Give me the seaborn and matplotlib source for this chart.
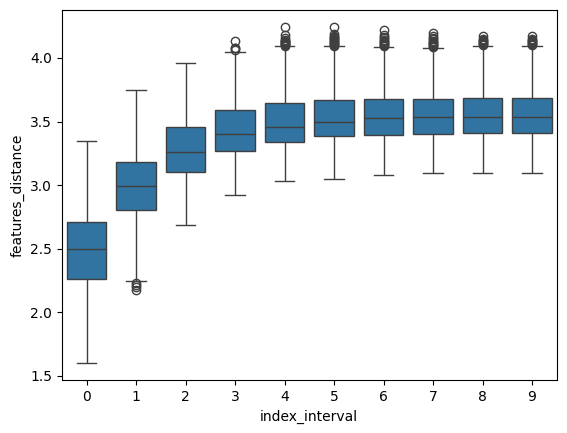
import pandas as pd
import matplotlib
matplotlib.use("Agg")
import matplotlib.pyplot as plt
import seaborn as sns

# box statistics, one entry per index_interval
intervals = [0, 1, 2, 3, 4, 5, 6, 7, 8, 9]
whisker_low = [1.599, 2.244, 2.686, 2.923, 3.034, 3.050, 3.076, 3.098, 3.098, 3.098]
q1 = [2.262, 2.805, 3.105, 3.271, 3.342, 3.384, 3.397, 3.405, 3.410, 3.410]
median = [2.500, 2.994, 3.263, 3.405, 3.460, 3.500, 3.524, 3.532, 3.532, 3.532]
q3 = [2.713, 3.184, 3.455, 3.587, 3.642, 3.668, 3.676, 3.676, 3.684, 3.684]
whisker_high = [3.350, 3.747, 3.960, 4.045, 4.092, 4.092, 4.085, 4.077, 4.077, 4.077]

# outliers
outliers_low = {
    1: [2.228, 2.215, 2.200, 2.173],
}
outliers_high = {
    3: [4.066, 4.075, 4.082, 4.130],
    4: [4.097, 4.102, 4.108, 4.113, 4.118, 4.124, 4.130, 4.137, 4.145, 4.155, 4.180, 4.240],
    5: [4.097, 4.103, 4.110, 4.117, 4.124, 4.132, 4.140, 4.148, 4.157, 4.166, 4.176, 4.190, 4.245],
    6: [4.090, 4.097, 4.104, 4.112, 4.120, 4.128, 4.136, 4.145, 4.155, 4.166, 4.180, 4.220],
    7: [4.082, 4.089, 4.096, 4.104, 4.112, 4.120, 4.128, 4.137, 4.147, 4.158, 4.172, 4.195],
    8: [4.082, 4.088, 4.095, 4.102, 4.110, 4.118, 4.126, 4.134, 4.143, 4.152, 4.175],
    9: [4.082, 4.088, 4.095, 4.102, 4.110, 4.118, 4.126, 4.134, 4.143, 4.152, 4.172],
}

# build a long table whose quartiles reproduce the statistics above
rows = []
for i, k in enumerate(intervals):
    vals = (outliers_low.get(k, []) + [whisker_low[i]] + [q1[i]] * 40 + [median[i]] * 40
            + [q3[i]] * 40 + [whisker_high[i]] + outliers_high.get(k, []))
    rows += [(k, v) for v in vals]
df = pd.DataFrame(rows, columns=["index_interval", "features_distance"])

fig, ax = plt.subplots(figsize=(5.67, 4.33), dpi=100)
sns.boxplot(data=df, x="index_interval", y="features_distance", ax=ax)
fig.subplots_adjust(left=0.109, right=0.982, top=0.977, bottom=0.122)
fig.savefig("out.png", dpi=100)
